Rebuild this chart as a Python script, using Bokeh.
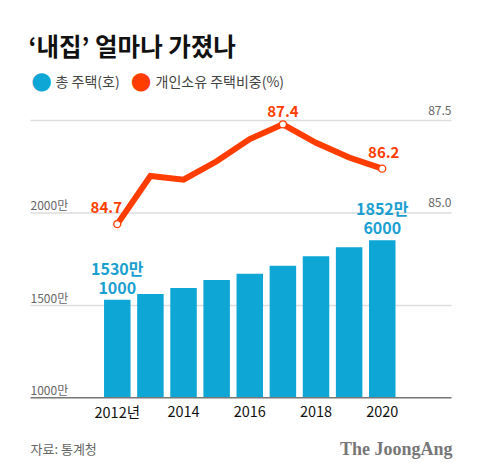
from bokeh.plotting import figure
from bokeh.models import Range1d, Label
from bokeh.core.properties import value
from bokeh.embed import file_html
from bokeh.resources import INLINE

years = [2012, 2013, 2014, 2015, 2016, 2017, 2018, 2019, 2020]
houses = [1530.1, 1562, 1594, 1638, 1671, 1714, 1766, 1815, 1852.6]   # 만 호
share = [84.7, 86.0, 85.9, 86.4, 87.0, 87.4, 86.9, 86.5, 86.2]        # %
xtick_years = [2012, 2014, 2016, 2018, 2020]
xtick_labels = ["2012년", "2014", "2016", "2018", "2020"]
grid_ticks = [1500, 2000, 2500]
left_ticks = [1000, 1500, 2000]
left_labels = ["1000만", "1500만", "2000만"]
right_ticks = [85.0, 87.5]
right_labels = ["85.0", "87.5"]
bar_label_idx = [0, 8]
bar_label_top = ["1530만", "1852만"]
bar_label_bottom = ["1000", "6000"]
line_label_idx = [0, 5, 8]
line_labels = ["84.7", "87.4", "86.2"]

BLUE = "#0ea6d4"
BLUE_T = "#1b9fd1"
RED = "#ff3d00"
FONT = "Noto Sans CJK KR"

W, H = 480, 476
# frame covers whole canvas
X0, X1 = 2008.474, 2022.966
Y0, Y1 = 574.1, 3149.9
p = figure(width=W, height=H, output_backend="svg", toolbar_location=None,
           x_range=Range1d(X0, X1), y_range=Range1d(Y0, Y1),
           x_axis_location=None, y_axis_location=None,
           min_border_left=0, min_border_right=0, min_border_top=0, min_border_bottom=0)
p.outline_line_color = None
p.background_fill_color = "white"
p.border_fill_color = "white"
p.xgrid.visible = False
p.ygrid.visible = False

# percentage scale: 85.0 <-> 2000, 87.5 <-> 2500
p.extra_y_ranges = {"pct": Range1d(85 + (Y0 - 2000) / 200, 85 + (Y1 - 2000) / 200)}

# plot area horizontal extent (ref px 30 .. 451)
PX = (X1 - X0) / W
GX0 = X0 + 30 * PX
GX1 = X0 + 451 * PX

# gridlines and baseline
p.segment(x0=[GX0] * len(grid_ticks), x1=[GX1] * len(grid_ticks), y0=grid_ticks,
          y1=grid_ticks, line_color="#dddddd", line_width=1.5)

# bars
p.vbar(x=years, top=houses, bottom=1000, width=0.8, color=BLUE, line_color=None)
p.segment(x0=[GX0], x1=[GX1], y0=[1000], y1=[1000], line_color="#777777", line_width=1.5)

# x tick labels
p.text(x=xtick_years, y=[1000] * len(xtick_years), text=xtick_labels,
       text_font=value(FONT), text_font_size="14.5px", text_color="#111111",
       text_align="center", text_baseline="middle", y_offset=14)

# left tick labels
p.text(x=[GX0] * len(left_ticks), y=left_ticks, text=left_labels,
       text_font=value(FONT), text_font_size="12px", text_color="#666666",
       text_align="left", text_baseline="middle", y_offset=-8)
# right tick labels
p.text(x=[GX1] * len(right_ticks), y=right_ticks, text=right_labels,
       y_range_name="pct", text_font=value(FONT), text_font_size="12px",
       text_color="#666666", text_align="right", text_baseline="middle", y_offset=-10)

# line
p.line(x=years, y=share, y_range_name="pct", line_color=RED, line_width=6,
       line_join="miter")
mx = [years[i] for i in line_label_idx]
my = [share[i] for i in line_label_idx]
p.scatter(x=mx, y=my, y_range_name="pct", size=7, fill_color="white",
          line_color=RED, line_width=1.2)

# bar labels
bx = [years[i] for i in bar_label_idx]
by = [houses[i] for i in bar_label_idx]
p.text(x=bx, y=by, text=bar_label_top, text_font=value(FONT), text_font_style="bold",
       text_font_size="16px", text_color=BLUE_T, text_align="center",
       text_baseline="middle", y_offset=-32)
p.text(x=bx, y=by, text=bar_label_bottom, text_font=value(FONT), text_font_style="bold",
       text_font_size="16px", text_color=BLUE_T, text_align="center",
       text_baseline="middle", y_offset=-12)

# line labels
p.text(x=mx, y=my, y_range_name="pct", text=line_labels, text_font=value(FONT),
       text_font_style="bold", text_font_size="15px", text_color=RED,
       text_align="center", text_baseline="middle",
       x_offset=[-11, 0, 1.5], y_offset=[-17, -13, -16])

def sy(ref_y):
    return H - ref_y

p.add_layout(Label(x=28, y=sy(45), x_units="screen", y_units="screen",
                   text="‘내집’ 얼마나 가졌나", text_font=FONT,
                   text_font_style="bold",
                   text_font_size="24.5px", text_color="#111111", text_baseline="middle"))

legend_items = [("총 주택(호)", BLUE, 41, 55), ("개인소유 주택비중(%)", RED, 140.5, 155)]
for txt, col, cx, tx in legend_items:
    p.add_layout(Label(x=cx, y=sy(80), x_units="screen", y_units="screen",
                       text="⬤", text_font="DejaVu Sans", text_font_size="18px",
                       text_color=col, text_baseline="middle", text_align="center"))
    p.add_layout(Label(x=tx, y=sy(80), x_units="screen", y_units="screen",
                       text=txt, text_font=FONT, text_font_size="14px",
                       text_color="#444444", text_baseline="middle"))

p.add_layout(Label(x=30, y=sy(448), x_units="screen", y_units="screen",
                   text="자료: 통계청", text_font=FONT, text_font_size="13px",
                   text_color="#666666", text_baseline="middle"))
p.add_layout(Label(x=452, y=sy(448), x_units="screen", y_units="screen",
                   text="The JoongAng", text_font="Liberation Serif", text_font_style="bold",
                   text_font_size="18px", text_color="#777777", text_baseline="middle",
                   text_align="right"))

open("out.html", "w").write(file_html(p, INLINE))
